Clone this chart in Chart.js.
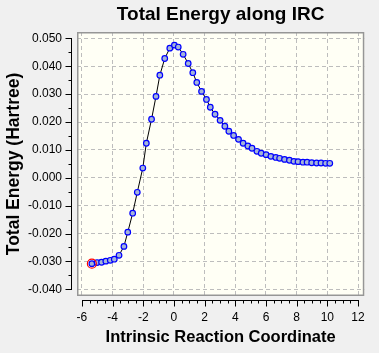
<!DOCTYPE html>
<html>
<head>
<meta charset="utf-8">
<script src="https://cdn.jsdelivr.net/npm/chart.js@4"></script>
<style>
html,body{margin:0;padding:0;background:#F0F0F0;}
#wrap{width:379px;height:353px;}
</style>
</head>
<body>
<div id="wrap"><canvas id="c" width="379" height="353"></canvas></div>
<script>
const chartTitle = 'Total Energy along IRC';
const xTitle = 'Intrinsic Reaction Coordinate';
const yTitle = 'Total Energy (Hartree)';
const xTicks = [-6,-4,-2,0,2,4,6,8,10,12];
const yTicks = [-0.04,-0.03,-0.02,-0.01,0,0.01,0.02,0.03,0.04,0.05];
const ircCoord = [-5.35,-5.01,-4.72,-4.44,-4.15,-3.89,-3.58,-3.26,-3.01,-2.69,-2.39,-2.03,-1.80,-1.46,-1.17,-0.92,-0.60,-0.27,0.03,0.28,0.60,0.93,1.23,1.49,1.80,2.12,2.37,2.68,3.01,3.32,3.58,3.89,4.21,4.51,4.82,5.09,5.41,5.69,6.01,6.32,6.64,6.89,7.21,7.53,7.82,8.09,8.41,8.68,8.98,9.30,9.59,9.89,10.16];
const energy = [-0.0308,-0.0304,-0.0303,-0.0299,-0.0296,-0.0292,-0.0278,-0.0246,-0.0195,-0.0127,-0.0052,0.0035,0.0124,0.0210,0.0292,0.0368,0.0428,0.0465,0.0476,0.0469,0.0443,0.0410,0.0377,0.0342,0.0310,0.0281,0.0253,0.0228,0.0206,0.0185,0.0167,0.0152,0.0138,0.0124,0.0114,0.0106,0.0095,0.0088,0.0083,0.0077,0.0073,0.0070,0.0066,0.0063,0.0059,0.0058,0.0056,0.0056,0.0054,0.0053,0.0053,0.0052,0.0052];
const currentIndex = [0];

const FONT = "'Liberation Sans', Arial, sans-serif";

const framePlugin = {
  id: 'frame',
  beforeDraw(chart) {
    const {ctx, chartArea: a} = chart;
    ctx.save();
    ctx.fillStyle = '#FFFFF5';
    ctx.fillRect(a.left, a.top, a.right - a.left, a.bottom - a.top);
    ctx.restore();
  },
  afterDraw(chart) {
    const {ctx, chartArea: a, scales} = chart;
    const xs = scales.x, ys = scales.y;
    ctx.save();
    ctx.strokeStyle = '#969696';
    ctx.lineWidth = 1.5;
    ctx.strokeRect(a.left + 0.75, a.top + 0.75, a.right - a.left - 1.5, a.bottom - a.top - 1.5);
    ctx.strokeStyle = '#000';
    ctx.lineWidth = 1;
    const yAxisX = a.left - 5.5;
    const yTop = ys.getPixelForValue(yTicks[yTicks.length-1]);
    const yBot = ys.getPixelForValue(yTicks[0]);
    ctx.beginPath();
    ctx.moveTo(yAxisX, Math.round(yTop)); ctx.lineTo(yAxisX, Math.round(yBot)+1);
    for (let i = 0; i < yTicks.length; i++) {
      const p = Math.round(ys.getPixelForValue(yTicks[i])) + 0.5;
      ctx.moveTo(yAxisX - 6, p); ctx.lineTo(yAxisX, p);
      if (i < yTicks.length - 1) {
        const pm = Math.round(ys.getPixelForValue((yTicks[i] + yTicks[i+1]) / 2)) + 0.5;
        ctx.moveTo(yAxisX - 3, pm); ctx.lineTo(yAxisX, pm);
      }
    }
    ctx.stroke();
    const xAxisY = a.bottom + 4.5;
    const xL = xs.getPixelForValue(xTicks[0]);
    const xR = xs.getPixelForValue(xTicks[xTicks.length-1]);
    ctx.beginPath();
    ctx.moveTo(Math.round(xL), xAxisY); ctx.lineTo(Math.round(xR)+1, xAxisY);
    for (let i = 0; i < xTicks.length; i++) {
      const p = Math.round(xs.getPixelForValue(xTicks[i])) + 0.5;
      ctx.moveTo(p, xAxisY); ctx.lineTo(p, xAxisY + 6);
      if (i < xTicks.length - 1) {
        const step = (xTicks[i+1] - xTicks[i]) / 4;
        for (let k = 1; k < 4; k++) {
          const pm = Math.round(xs.getPixelForValue(xTicks[i] + k * step)) + 0.5;
          ctx.moveTo(pm, xAxisY); ctx.lineTo(pm, xAxisY + 3);
        }
      }
    }
    ctx.stroke();
    ctx.restore();
  }
};

const points = ircCoord.map((x, i) => ({x: x, y: energy[i]}));
const current = currentIndex.map(i => ({x: ircCoord[i], y: energy[i]}));

new Chart(document.getElementById('c'), {
  type: 'scatter',
  data: {
    datasets: [
      {
        data: current,
        showLine: false,
        pointRadius: 4.5,
        pointBorderColor: '#FF0000',
        pointBackgroundColor: 'rgba(0,0,0,0)',
        pointBorderWidth: 1.2
      },
      {
        data: points,
        showLine: true,
        borderColor: '#000000',
        borderWidth: 1,
        tension: 0,
        pointRadius: 2.8,
        pointBorderColor: '#0000FF',
        pointBackgroundColor: '#A4B4D8',
        pointBorderWidth: 1.2
      }
    ]
  },
  plugins: [framePlugin],
  options: {
    responsive: false,
    animation: false,
    devicePixelRatio: 1,
    layout: {padding: {left: 0, right: 6, top: 0, bottom: 0}},
    plugins: {
      legend: {display: false},
      tooltip: {enabled: false},
      title: {
        display: true,
        text: chartTitle,
        fullSize: false,
        color: '#000',
        font: {family: FONT, size: 19, weight: 'bold', lineHeight: 1.2},
        padding: {top: 3, bottom: 6.2}
      }
    },
    scales: {
      x: {
        type: 'linear',
        min: -6.32,
        max: 12.41,
        afterBuildTicks(scale) { scale.ticks = xTicks.map(v => ({value: v})); },
        afterFit(scale) { scale.height = 57; },
        border: {display: false, dash: [4, 3]},
        grid: {display: true, drawTicks: false, color: '#BDBDBD', lineWidth: 1},
        ticks: {
          color: '#000',
          padding: 14,
          maxRotation: 0,
          autoSkip: false,
          font: {family: FONT, size: 12},
          callback: v => String(v)
        },
        title: {
          display: true,
          text: xTitle,
          color: '#000',
          font: {family: FONT, size: 16.5, weight: 'bold', lineHeight: 1.2},
          padding: {top: 0, bottom: 6}
        }
      },
      y: {
        type: 'linear',
        min: -0.0424,
        max: 0.0523,
        afterBuildTicks(scale) { scale.ticks = yTicks.map(v => ({value: v})); },
        afterFit(scale) { scale.width = 77; },
        border: {display: false, dash: [4, 3]},
        grid: {display: true, drawTicks: false, color: '#BDBDBD', lineWidth: 1},
        ticks: {
          color: '#000',
          padding: 15,
          autoSkip: false,
          font: {family: FONT, size: 12},
          callback: v => v.toFixed(3)
        },
        title: {
          display: true,
          text: yTitle,
          color: '#000',
          font: {family: FONT, size: 17.5, weight: 'bold', lineHeight: 1.2},
          padding: {top: 4, bottom: 0}
        }
      }
    }
  }
});
</script>
</body>
</html>
